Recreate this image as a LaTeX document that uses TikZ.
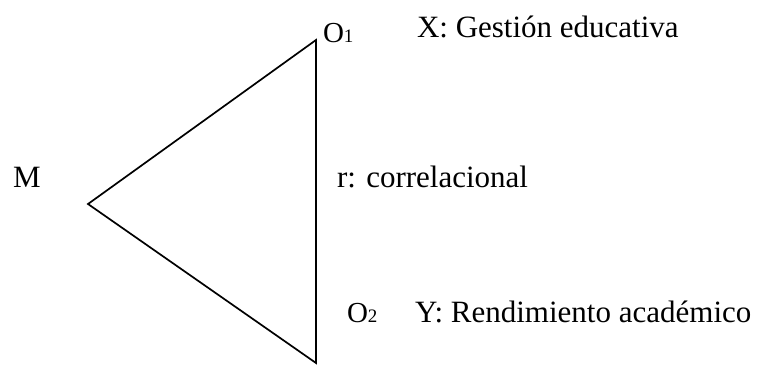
\documentclass[tikz,border=0pt]{standalone}
\usepackage{fontspec}
\setmainfont{Liberation Serif}
\begin{document}
\begin{tikzpicture}[x=1pt,y=-1pt,
  lbl/.style={anchor=base west,inner sep=0pt,outer sep=0pt,font=\fontsize{31}{37}\selectfont},
  obs/.style={anchor=base west,inner sep=0pt,outer sep=0pt,font=\fontsize{29}{35}\selectfont},
  edge/.style={line width=1.7pt,line join=miter}]
\useasboundingbox (0,0) rectangle (764,365);
\coordinate (m) at (88,204);
\coordinate (o1) at (316,40);
\coordinate (o2) at (316,363);
\draw[edge] (m) -- (o1) -- (o2) -- cycle;
\node[lbl] (M) at (13,187) {M};
\node[obs] (O1) at (323,42) {O{\fontsize{19}{19}\selectfont 1}};
\node[obs] (O2) at (347,322) {O{\fontsize{19}{19}\selectfont 2}};
\node[lbl] (X) at (417,37) {X: Gestión educativa};
\node[lbl] (r) at (337,187) {r: correlacional};
\node[lbl] (Y) at (415,322) {Y: Rendimiento académico};
\end{tikzpicture}
\end{document}
